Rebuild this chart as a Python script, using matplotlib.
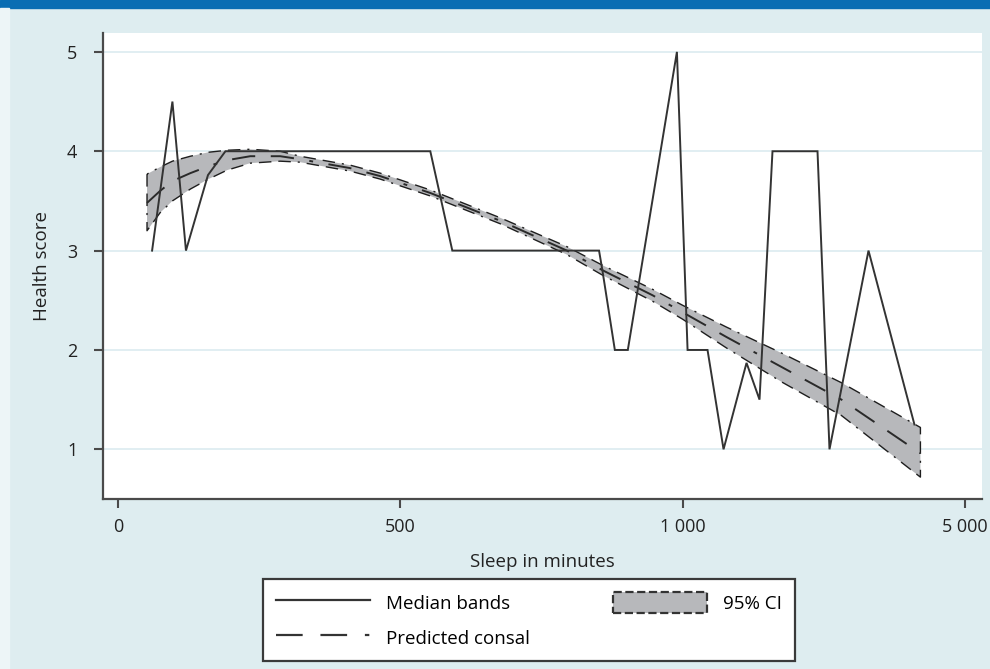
import numpy as np
import matplotlib
matplotlib.use("Agg")
import matplotlib.pyplot as plt
from matplotlib.patches import Rectangle, Patch
from matplotlib.lines import Line2D

plt.rcParams['font.family'] = ['Open Sans', 'DejaVu Sans']

# median health score per sleep band (minutes)
median_min = [60, 96, 120, 159, 190, 553, 592, 852, 858, 880, 903, 990, 1071, 1354,
              1581, 1907, 2091, 2275, 2913, 3083, 3636, 4287]
median_score = [3.0, 4.5, 3.0, 3.76, 4.0, 4.0, 3.0, 3.0, 2.8, 2.0, 2.0, 5.0, 2.0, 2.0,
                1.0, 1.87, 1.5, 4.0, 4.0, 1.0, 3.0, 1.25]

# predicted curve with 95% CI
pred_min = [51, 74, 96, 128, 160, 193, 234, 287, 322, 411, 464, 553, 677, 795, 859,
            947, 1000, 1623, 2400, 3253, 4372]
pred_fit = [3.48, 3.60, 3.70, 3.78, 3.85, 3.91, 3.95, 3.95, 3.92, 3.83, 3.75, 3.58,
            3.30, 3.00, 2.80, 2.55, 2.38, 2.13, 1.83, 1.50, 0.96]
ci_upper = [3.77, 3.84, 3.90, 3.95, 3.99, 4.01, 4.02, 4.00, 3.95, 3.86, 3.78, 3.61,
            3.33, 3.04, 2.85, 2.61, 2.45, 2.23, 1.97, 1.67, 1.22]
ci_lower = [3.20, 3.38, 3.50, 3.62, 3.72, 3.81, 3.88, 3.90, 3.89, 3.80, 3.72, 3.55,
            3.27, 2.96, 2.75, 2.49, 2.31, 2.02, 1.68, 1.34, 0.72]

x_ticks = [0, 500, 1000, 5000]
x_ticklabels = ["0", "500", "1 000", "5 000"]
y_ticks = [1, 2, 3, 4, 5]


# x axis: linear up to 1000 min, compressed between 1000 and 5000
def fwd(x):
    x = np.asarray(x, dtype=float)
    return np.where(x <= 1000, x / 500.0, 2.0 + (x - 1000.0) / 4000.0)


def inv(u):
    u = np.asarray(u, dtype=float)
    return np.where(u <= 2, u * 500.0, 1000.0 + (u - 2.0) * 4000.0)


BG = '#deedf0'
AX_COL = '#4a4a4a'
dash_pred = (0, (12, 8, 12, 8, 2, 8))
dash_ci = (0, (9, 5, 9, 5, 1.5, 5))

fig = plt.figure(figsize=(9.9, 6.69), dpi=100, facecolor=BG)
fig.patches.append(Rectangle((0, 1 - 8 / 669), 1, 8 / 669, transform=fig.transFigure,
                             color='#0a6db3', zorder=0))
fig.patches.append(Rectangle((0, 0), 9 / 990, 1 - 8 / 669, transform=fig.transFigure,
                             color='#edf5f7', zorder=0))

ax = fig.add_axes([103 / 990, 1 - 499 / 669, 879 / 990, 466 / 669])
ax.set_facecolor('white')
ax.set_xscale('function', functions=(fwd, inv))
ax.set_xlim(-27, 5245)
ax.set_ylim(0.50, 5.19)

# grid
ax.set_yticks(y_ticks)
ax.yaxis.grid(True, color='#dcebf0', linewidth=1.2)
ax.set_axisbelow(True)

# CI band
ax.fill_between(pred_min, ci_lower, ci_upper, facecolor='#b7b8bb', edgecolor='#1e1e1e',
                linewidth=1.0, linestyle=dash_ci, zorder=2)
ax.plot(pred_min, pred_fit, color='#2a2a2a', linewidth=1.4, linestyle=dash_pred, zorder=3)
ax.plot(median_min, median_score, color='#333333', linewidth=1.4, zorder=4,
        solid_joinstyle='miter')

ax.set_xticks(x_ticks)
ax.set_xticklabels(x_ticklabels)
ax.tick_params(axis='x', length=6.5, width=1.5, color=AX_COL, pad=7, labelsize=13,
               labelcolor='#222222')
ax.tick_params(axis='y', length=6.5, width=1.5, color=AX_COL, pad=12, labelsize=13,
               labelcolor='#222222')
ax.minorticks_off()

for s in ['top', 'right']:
    ax.spines[s].set_visible(False)
for s in ['left', 'bottom']:
    ax.spines[s].set_color(AX_COL)
    ax.spines[s].set_linewidth(1.6)

ax.set_xlabel("Sleep in minutes", fontsize=13.5, color='#222222')
ax.xaxis.label.set_va('center')
ax.xaxis.set_label_coords(0.5, -0.135)
ax.set_ylabel("Health score", fontsize=13.5, color='#222222')
ax.yaxis.label.set_va('center')
ax.yaxis.set_label_coords(-0.069, 0.5)

handles = [
    Line2D([], [], color='#333333', linewidth=1.6),
    Line2D([], [], color='#333333', linewidth=1.6, linestyle=dash_pred),
    Patch(facecolor='#b7b8bb', edgecolor='#333333', linewidth=1.6, linestyle='--'),
]
labels = ["Median bands", "Predicted consal", "95% CI"]
leg = fig.legend(handles, labels, loc='upper left', bbox_to_anchor=(263 / 990, 1 - 579 / 669),
                 ncol=2, fontsize=13.5, frameon=True, fancybox=False, borderaxespad=0,
                 handlelength=5.0, handleheight=1.4, handletextpad=0.9,
                 labelspacing=0.72, columnspacing=4.4, borderpad=0.68)
leg.get_frame().set_edgecolor('#3a3a3a')
leg.get_frame().set_linewidth(1.6)
leg.get_frame().set_facecolor('white')
leg.get_frame().set_alpha(1)

fig.savefig("out.png", dpi=100, facecolor=BG)
